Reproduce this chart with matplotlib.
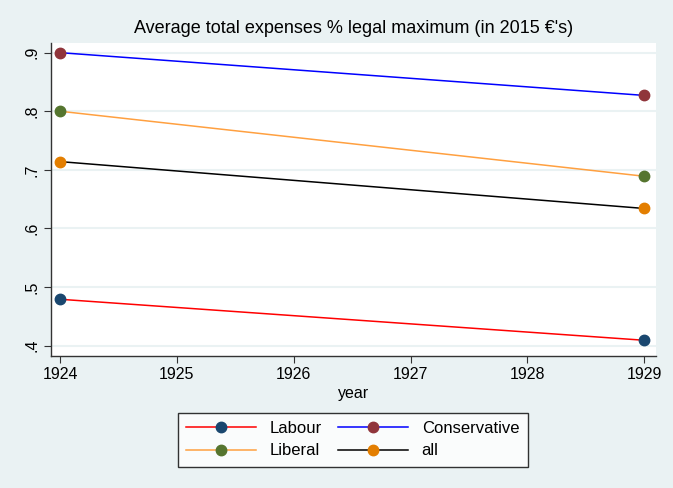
import matplotlib.pyplot as plt
from matplotlib.lines import Line2D

plt.rcParams['font.family'] = ['Liberation Sans', 'DejaVu Sans']

years = [1924, 1929]
labour = [0.479, 0.409]
conservative = [0.900, 0.827]
liberal = [0.800, 0.689]
all_parties = [0.714, 0.634]

series_names = ['Labour', 'Conservative', 'Liberal', 'all']
series_vals = [labour, conservative, liberal, all_parties]
line_cols = ['#ff0000', '#0000ff', '#ffa040', '#000000']
mark_cols = ['#1a476f', '#90353b', '#55752f', '#e37e00']

bg = '#eaf2f3'
fig = plt.figure(figsize=(6.73, 4.88), dpi=100, facecolor=bg)
ax = fig.add_axes([0.0753, 0.2715, 0.8994, 0.641])
ax.set_facecolor('white')

for i in range(len(series_names)):
    ax.plot(years, series_vals[i], color=line_cols[i], linewidth=1.1, zorder=3)
    ax.plot(years, series_vals[i], linestyle='none', marker='o', markersize=7.5,
            color=mark_cols[i], zorder=4)

ax.set_xlim(1923.92, 1929.10)
ax.set_ylim(0.383, 0.917)
ax.set_xticks([1924, 1925, 1926, 1927, 1928, 1929])
yt = [0.4, 0.5, 0.6, 0.7, 0.8, 0.9]
ax.set_yticks(yt)
ax.set_yticklabels(['.4', '.5', '.6', '.7', '.8', '.9'], rotation=90, va='center')
for y in yt:
    ax.axhline(y, color=bg, linewidth=1.5, zorder=1)

for s in ['top', 'right']:
    ax.spines[s].set_visible(False)
for s in ['left', 'bottom']:
    ax.spines[s].set_color('#333333')
    ax.spines[s].set_linewidth(1)
ax.tick_params(direction='out', length=5, color='#333333', labelsize=11.5, pad=3)

ax.set_xlabel('year', fontsize=11.5, labelpad=3)
ax.set_title("Average total expenses % legal maximum (in 2015 \u20ac's)", fontsize=13, pad=7)

handles = []
for i in range(len(series_names)):
    handles.append(Line2D([0, 1], [0, 1], color=line_cols[i], linewidth=1.1, marker='o',
                          markersize=7.5, markerfacecolor=mark_cols[i],
                          markeredgecolor=mark_cols[i]))
# matplotlib fills legend columns first, reference is row by row
order = [0, 2, 1, 3]
leg = fig.legend([handles[k] for k in order], [series_names[k] for k in order],
                 loc='center', bbox_to_anchor=(0.524, 0.099),
                 ncol=2, fontsize=12, frameon=True, fancybox=False, handlelength=4.2,
                 handletextpad=0.8, columnspacing=1.0, borderpad=0.5, labelspacing=0.45)
leg.get_frame().set_edgecolor('black')
leg.get_frame().set_linewidth(1)

fig.savefig('out.png', dpi=100, facecolor=bg)
